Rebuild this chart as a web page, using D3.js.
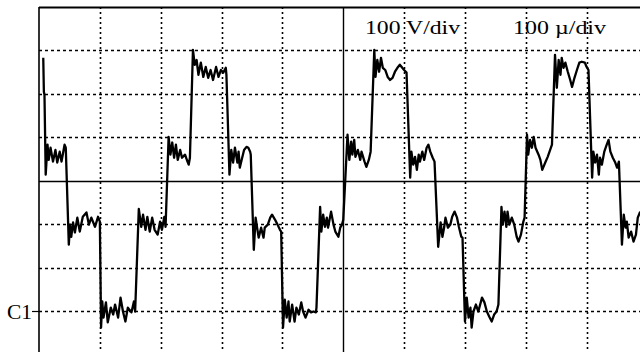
<!DOCTYPE html>
<html>
<head>
<meta charset="utf-8">
<script src="https://cdn.jsdelivr.net/npm/d3@7"></script>
<style>
  body { margin: 0; background: #fff; }
  svg { display: block; }
</style>
</head>
<body>
<svg id="scope"></svg>
<script>
// scope record of channel C1, read off the screen shot
// time in microseconds from the left edge of the screen
var timeUs = [7,8,9,11,14,16,19,23,27,30,34,37,42,44,
  49,51,53,56,59,63,67,72,78,82,86,92,97,100,
  102,104,106,110,113,118,122,125,130,134,138,142,146,152,156,158,
  164,166,168,171,175,178,182,186,190,195,199,202,206,208,
  213,216,219,222,225,228,232,235,240,244,246,248,
  253,256,259,262,266,270,274,278,282,286,291,295,299,303,307,308,
  313,316,319,322,326,328,330,333,337,341,344,347,348,
  353,356,359,361,365,369,371,376,380,383,388,392,396,398,
  401,404,407,410,412,416,420,423,427,431,434,438,443,447,451,455,456,
  462,464,467,470,473,475,480,484,487,492,495,498,500,
  507,510,513,515,518,520,524,528,530,535,538,542,545,
  551,553,556,559,562,565,569,573,577,581,585,589,593,597,600,604,
  610,612,615,618,621,624,626,630,633,637,640,643,647,650,
  656,660,663,666,668,672,676,679,683,687,690,694,696,
  700,703,706,709,711,714,718,722,728,732,736,740,744,748,752,755,
  760,762,765,768,770,773,777,781,785,788,792,796,798,
  802,804,807,810,813,816,821,824,827,832,836,840,843,
  848,851,854,857,859,862,865,869,873,876,880,884,888,892,897,900,903,
  909,911,914,917,920,922,925,929,933,936,939,943,947,950,953,
  958,961,964,966,969,973,977,981,984,988];

// volts, 0 V is the C1 marker
var voltsC1 = [583,505,498,314,383,348,376,344,371,342,367,344,383,376,
  153,199,171,204,181,215,183,217,227,199,215,194,217,206,
  -38,22,-15,20,-26,8,-8,15,-15,31,-1,-24,8,-3,22,-1,
  235,215,194,222,187,217,183,215,187,176,206,187,217,194,
  401,360,388,353,383,348,371,353,360,344,337,353,
  601,567,578,544,572,539,562,537,555,532,562,539,555,549,560,544,
  314,371,342,376,342,367,330,348,371,378,376,367,360,
  141,215,187,169,192,169,192,199,215,222,210,199,187,183,
  -38,26,-15,22,-24,15,-24,8,-8,20,-1,-15,3,-3,-1,-3,8,
  240,183,222,194,215,192,229,199,183,171,192,199,210,
  406,348,390,360,394,355,371,348,367,344,332,348,367,
  601,539,578,551,583,560,555,539,532,537,551,560,567,560,555,549,
  307,367,337,355,325,360,344,367,348,376,383,367,353,344,
  148,204,171,194,215,192,199,217,229,215,194,171,169,
  -24,31,-15,8,-38,-1,15,-1,31,20,-1,-13,-24,-8,-1,15,
  240,199,229,194,229,199,215,199,171,160,176,206,215,
  406,360,394,376,401,376,360,348,325,342,355,371,383,
  590,514,578,544,583,560,572,551,532,516,537,555,572,574,572,562,555,
  307,367,342,360,314,353,337,367,383,394,367,353,342,330,344,
  153,222,192,206,169,183,160,176,215,229];

var timeRange = [0, 1000];   // 10 div of 100 us
var voltRange = [-100, 700]; // 8 div of 100 V
var scaleLabels = ["100 V/div", "100 \u00b5/div"];
var channelName = "C1";

var width = 640;
var height = 352;

var x = d3.scaleLinear().domain(timeRange).range([39, 647.5]);
var y = d3.scaleLinear().domain(voltRange).range([354.5, 7]);

var svg = d3.select("#scope")
  .attr("width", width)
  .attr("height", height);

svg.append("clipPath").attr("id", "screen")
  .append("rect")
  .attr("x", x(0)).attr("y", y(700))
  .attr("width", width - x(0)).attr("height", height - y(700));

// dotted grid
var grid = svg.append("g").attr("stroke", "#000").attr("fill", "none");

grid.selectAll(".vdot")
  .data(x.ticks(10).filter(function(d) { return d > 0 && d !== 500 && d < 1000; }))
  .enter().append("line")
  .attr("class", "vdot")
  .attr("x1", function(d) { return Math.round(x(d)) + 0.5; })
  .attr("x2", function(d) { return Math.round(x(d)) + 0.5; })
  .attr("y1", y(700)).attr("y2", height)
  .attr("stroke-width", 1.6)
  .attr("stroke-dasharray", "2,3");

grid.selectAll(".hdot")
  .data(y.ticks(8).filter(function(d) { return d > -100 && d !== 300 && d < 700; }))
  .enter().append("line")
  .attr("class", "hdot")
  .attr("x1", x(0)).attr("x2", width)
  .attr("y1", function(d) { return Math.round(y(d)) + 0.5; })
  .attr("y2", function(d) { return Math.round(y(d)) + 0.5; })
  .attr("stroke-width", 1.6)
  .attr("stroke-dasharray", "3,3");

// solid centre lines and frame
grid.append("line")
  .attr("x1", x(0)).attr("x2", width)
  .attr("y1", Math.round(y(300)) + 0.5).attr("y2", Math.round(y(300)) + 0.5)
  .attr("stroke-width", 1.4);
grid.append("line")
  .attr("x1", Math.round(x(500)) + 0.5).attr("x2", Math.round(x(500)) + 0.5)
  .attr("y1", y(700)).attr("y2", height)
  .attr("stroke-width", 1.4);
grid.append("line")
  .attr("x1", x(0)).attr("x2", width)
  .attr("y1", y(700) + 0.5).attr("y2", y(700) + 0.5)
  .attr("stroke-width", 1.8);
grid.append("line")
  .attr("x1", x(0)).attr("x2", x(0))
  .attr("y1", y(700)).attr("y2", height)
  .attr("stroke-width", 1.6);

// channel marker
grid.append("line")
  .attr("x1", x(0) - 7).attr("x2", x(0))
  .attr("y1", Math.round(y(0)) + 0.5).attr("y2", Math.round(y(0)) + 0.5)
  .attr("stroke-width", 1.2);

svg.append("text")
  .attr("x", 7).attr("y", 318.5)
  .attr("font-family", "Liberation Serif, Times New Roman, serif")
  .attr("font-size", 22)
  .attr("textLength", 25)
  .attr("lengthAdjust", "spacingAndGlyphs")
  .text(channelName);

// trace
var pts = timeUs.map(function(t, i) { return {t: t, v: voltsC1[i]}; });
var line = d3.line()
  .x(function(d) { return x(d.t); })
  .y(function(d) { return y(d.v); });

svg.append("path")
  .datum(pts)
  .attr("clip-path", "url(#screen)")
  .attr("d", line)
  .attr("fill", "none")
  .attr("stroke", "#000")
  .attr("stroke-width", 2.3)
  .attr("stroke-linejoin", "round");

// scale readouts
svg.selectAll(".readout")
  .data(scaleLabels)
  .enter().append("text")
  .attr("class", "readout")
  .attr("x", function(d, i) { return i === 0 ? 365 : 513; })
  .attr("y", 33.5)
  .attr("font-family", "Liberation Serif, Times New Roman, serif")
  .attr("font-size", 18)
  .attr("textLength", function(d, i) { return i === 0 ? 95 : 93; })
  .attr("lengthAdjust", "spacingAndGlyphs")
  .text(function(d) { return d; });
</script>
</body>
</html>
